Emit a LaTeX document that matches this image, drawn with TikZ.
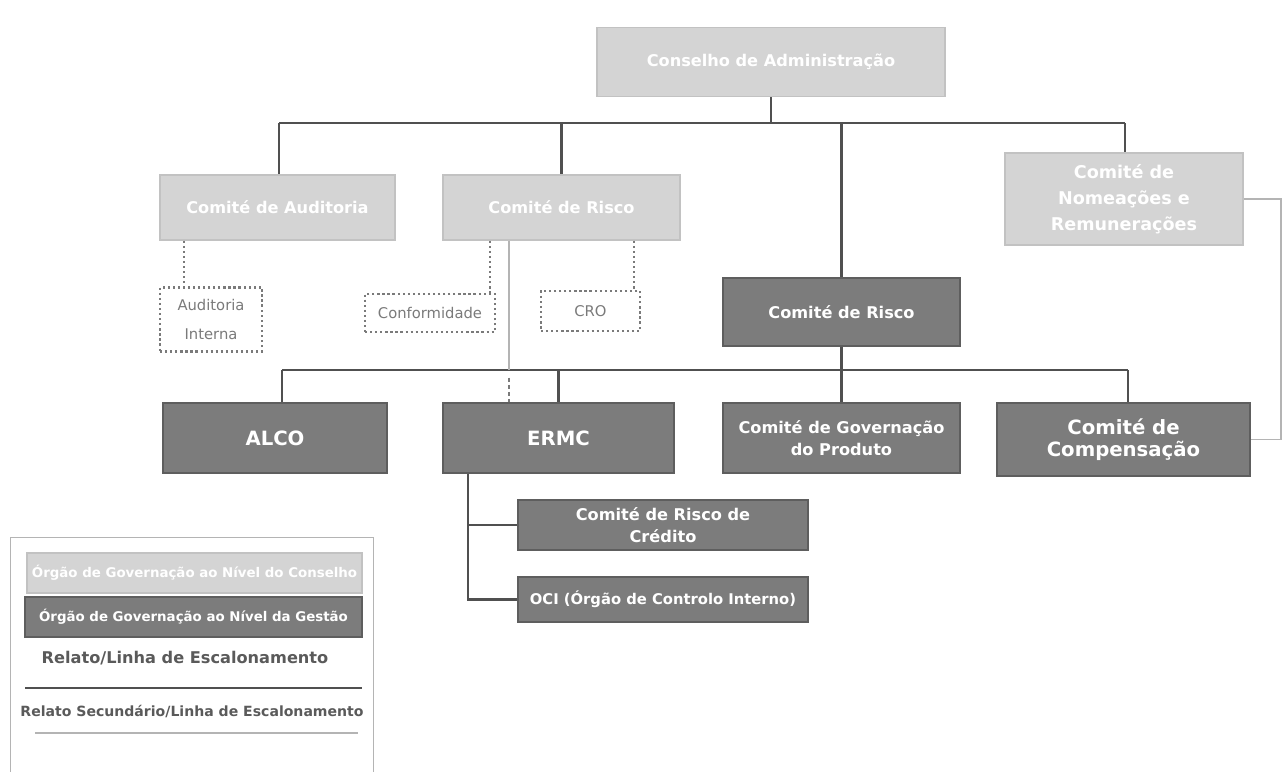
\documentclass[tikz,border=0pt]{standalone}
\usepackage{fontspec}
\setmainfont{DejaVu Sans}
\newcommand{\pxu}{0.025cm}
\definecolor{boardfill}{HTML}{D4D4D4}
\definecolor{boarddraw}{HTML}{C2C2C2}
\definecolor{mgmtfill}{HTML}{7C7C7C}
\definecolor{mgmtdraw}{HTML}{5E5E5E}
\definecolor{trunkgrey}{HTML}{505050}
\definecolor{secgrey}{HTML}{B4B4B4}
\definecolor{dotgrey}{HTML}{7A7A7A}
\definecolor{legtext}{HTML}{5A5A5A}

\begin{document}
\begin{tikzpicture}[x=\pxu,y=-\pxu,
    sz/.style 2 args={minimum width=#1*\pxu,minimum height=#2*\pxu},
    board/.style={fill=boardfill,draw=boarddraw,line width=1pt,text=white,
        inner sep=0pt,align=center,font=\fontsize{11.5}{15.5}\selectfont\bfseries},
    mgmt/.style={fill=mgmtfill,draw=mgmtdraw,line width=1pt,text=white,
        inner sep=0pt,align=center,font=\fontsize{11.5}{15.5}\selectfont\bfseries},
    dotbox/.style={draw=dotgrey,dotted,line width=1.6pt,text=dotgrey,
        inner sep=0pt,align=center,font=\fontsize{10.5}{20}\selectfont},
    trunk/.style={draw=trunkgrey,line width=2pt},
    secline/.style={draw=secgrey,line width=0.8pt},
    dotlink/.style={draw=dotgrey,dotted,line width=1.6pt},
    legtxt/.style={text=legtext,inner sep=0pt,font=\bfseries}]
\useasboundingbox (0,0) rectangle (1284,771);

% board level
\node[board,sz={348}{69},font=\fontsize{11.5}{13}\selectfont\bfseries]
    (cons) at (771,62) {Conselho de Administração};
\node[board,sz={235}{65}] (audc) at (277.5,207.5) {Comité de Auditoria};
\node[board,sz={237}{65}] (riscc) at (561.5,207.5) {Comité de Risco};
\node[board,sz={238}{92},font=\fontsize{12.5}{18.5}\selectfont\bfseries]
    (nomc) at (1124,199) {Comité de\\Nomeações e\\Remunerações};

% control functions
\node[dotbox,sz={102}{64}] (audint) at (211,319.5) {Auditoria\\Interna};
\node[dotbox,sz={130}{38}] (conf) at (430,313) {Conformidade};
\node[dotbox,sz={99}{40}] (cro) at (590.5,311) {CRO};

% management level
\node[mgmt,sz={237}{68}] (riscg) at (841.5,312) {Comité de Risco};
\node[mgmt,sz={224}{70},font=\fontsize{14}{16}\selectfont\bfseries]
    (alco) at (275,438) {ALCO};
\node[mgmt,sz={231}{70},font=\fontsize{14}{16}\selectfont\bfseries]
    (ermc) at (558.5,438) {ERMC};
\node[mgmt,sz={237}{70}] (gov) at (841.5,438) {Comité de Governação\\do Produto};
\node[mgmt,sz={253}{73},font=\fontsize{14}{16}\selectfont\bfseries]
    (comp) at (1123.5,439.5) {Comité de\\Compensação};
\node[mgmt,sz={290}{50}] (cred) at (663,525) {Comité de Risco de\\Crédito};
\node[mgmt,sz={290}{45},font=\fontsize{10.5}{12}\selectfont\bfseries]
    (oci) at (663,599.5) {OCI (Órgão de Controlo Interno)};

% buses
\coordinate (bus1w) at (279,123);
\coordinate (bus1e) at (1125,123);
\coordinate (bus2w) at (282,370);
\coordinate (bus2e) at (1128,370);
\coordinate (dA) at (184,0);
\coordinate (dC) at (490,0);
\coordinate (dR) at (634,0);
\coordinate (dE) at (509,0);
\coordinate (eb) at (468,0);
\coordinate (rt) at (1281,0);

\draw[trunk] (cons.south) -- (cons.south |- bus1w);
\draw[trunk] (bus1w) -- (bus1e);
\draw[trunk] (bus1w) -- (bus1w |- audc.north);
\draw[trunk] (riscc.north |- bus1w) -- (riscc.north);
\draw[trunk] (riscg.north |- bus1w) -- (riscg.north);
\draw[trunk] (bus1e) -- (bus1e |- nomc.north);

\draw[trunk] (riscg.south) -- (gov.north);
\draw[trunk] (bus2w) -- (bus2e);
\draw[trunk] (bus2w) -- (bus2w |- alco.north);
\draw[trunk] (ermc.north |- bus2w) -- (ermc.north);
\draw[trunk] (bus2e) -- (bus2e |- comp.north);

\draw[trunk] (ermc.south -| eb) -- (oci.west -| eb) -- (oci.west);
\draw[trunk] (cred.west -| eb) -- (cred.west);

% dotted and secondary reporting
\draw[dotlink] (audc.south -| dA) -- (audint.north -| dA);
\draw[dotlink] (riscc.south -| dC) -- (conf.north -| dC);
\draw[dotlink] (riscc.south -| dR) -- (cro.north -| dR);
\draw[secline] (riscc.south -| dE) -- (bus2w -| dE);
\draw[secline,densely dashed,line width=1.4pt,draw=dotgrey,shorten <=5.5pt]
    (bus2w -| dE) -- (ermc.north -| dE);
\draw[secline] (nomc.east) -- (nomc.east -| rt) -- (comp.east -| rt) -- (comp.east);

% legend
\node[draw=secgrey,line width=0.8pt,sz={363}{250},anchor=north west]
    (leg) at (10,537) {};
\node[board,sz={335}{40},font=\fontsize{9.5}{10}\selectfont\bfseries]
    (legb) at (194.5,573) {Órgão de Governação ao Nível do Conselho};
\node[mgmt,sz={337}{40},font=\fontsize{9.5}{10}\selectfont\bfseries]
    (legm) at (193.5,617) {Órgão de Governação ao Nível da Gestão};
\node[legtxt,font=\fontsize{11.5}{12}\selectfont\bfseries]
    (legr) at (185,658) {Relato/Linha de Escalonamento};
\node[legtxt,font=\fontsize{10}{11}\selectfont\bfseries]
    (legs) at (192,712) {Relato Secundário/Linha de Escalonamento};
\coordinate (lr1) at (25,688);
\coordinate (lr2) at (362,688);
\coordinate (ls1) at (35,733);
\coordinate (ls2) at (358,733);
\draw[trunk] (lr1) -- (lr2);
\draw[secline,line width=1.4pt] (ls1) -- (ls2);
\end{tikzpicture}
\end{document}
